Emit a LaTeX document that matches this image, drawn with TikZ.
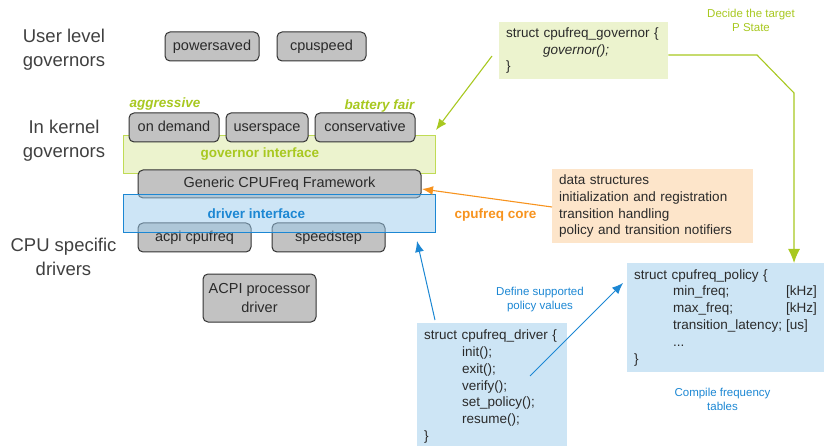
\documentclass[tikz,border=0pt]{standalone}
\usepackage{fontspec}
\setmainfont{Liberation Sans}
\usetikzlibrary{arrows.meta}

\definecolor{labelgray}{HTML}{404040}
\definecolor{inktext}{HTML}{2A2A2A}
\definecolor{boxfill}{HTML}{C2C2C2}
\definecolor{boxline}{HTML}{333333}
\definecolor{gov}{HTML}{A8C820}
\definecolor{govfill}{HTML}{ECF3CE}
\definecolor{govline}{HTML}{C0DB55}
\definecolor{drv}{HTML}{1C87D3}
\definecolor{drvfill}{HTML}{9CCCEE}
\definecolor{core}{HTML}{F7931E}
\definecolor{corefill}{HTML}{FDE5CA}
\definecolor{structblue}{HTML}{CDE5F5}

\tikzset{
  x=1pt, y=-1pt,
  sidelabel/.style={text=labelgray, align=center, font=\fontsize{18.5}{24}\selectfont},
  grayshape/.style={draw=boxline, fill=boxfill, line width=1pt, rounded corners=5pt,
    text=inktext, inner sep=0pt, minimum height=29pt,
    font=\fontsize{14.5}{19}\selectfont, align=center},
  graybox/.style={grayshape, text height=10.5pt, text depth=3pt},
  layerbox/.style={line width=1pt, inner sep=0pt},
  layertitle/.style={font=\bfseries\fontsize{13.5}{16}\selectfont},
  structbox/.style={text=inktext, align=left, inner xsep=7pt, inner ysep=0pt,
    font=\fontsize{13.5}{16.8}\selectfont},
  note/.style={align=center, font=\fontsize{11.5}{14}\selectfont},
  tag/.style={font=\bfseries\itshape\fontsize{13.5}{16}\selectfont, text=gov},
  link/.style={line width=1.1pt, -{Latex[length=11pt,width=9pt]}},
}

\begin{document}
\begin{tikzpicture}
\useasboundingbox (0,0) rectangle (824,446);

% side captions
\node[sidelabel] (ulg) at (64,49.5) {User level\\governors};
\node[sidelabel] (ikg) at (64,141) {In kernel\\governors};
\node[sidelabel] (csd) at (63.5,257) {CPU specific\\drivers};

% user level governors
\node[graybox, minimum width=94pt] (powersaved) at (212,46.5) {powersaved};
\node[graybox, minimum width=89pt] (cpuspeed) at (321.5,46.5) {cpuspeed};

% governor interface layer
\node[layerbox, draw=govline, fill=govfill, minimum width=312pt, minimum height=38pt]
  (govif) at (279,155) {};
\node[layertitle, text=gov] (govtitle) at (260,154.5) {governor interface};

% in kernel governors
\node[graybox, minimum width=90pt] (ondemand) at (174,127.5) {on demand};
\node[graybox, minimum width=82pt] (userspace) at (267,127.5) {userspace};
\node[graybox, minimum width=100pt] (conservative) at (365,127.5) {conservative};
\node[tag] (aggr) at (165,104) {aggressive};
\node[tag] (batt) at (379.5,106.5) {battery fair};

% core framework
\node[graybox, minimum width=283pt, minimum height=28pt] (generic) at (279.5,184) {Generic CPUFreq Framework};

% cpu specific drivers
\node[graybox, minimum width=113pt] (acpicpufreq) at (194.5,237.5) {acpi cpufreq};
\node[graybox, minimum width=113pt] (speedstep) at (328.5,237.5) {speedstep};
\node[grayshape, minimum width=113pt, minimum height=48pt]
  (acpiproc) at (259.5,298) {ACPI processor\\driver};

% driver interface layer (translucent, lies over the driver boxes)
\node[layerbox, draw=drv, fill=drvfill, fill opacity=0.5, minimum width=312pt, minimum height=38pt]
  (drvif) at (279,214) {};
\node[layertitle, text=drv] (drvtitle) at (256.5,214) {driver interface};

% governor structure
\node[structbox, fill=govfill, text width=155pt, minimum height=57pt, anchor=north west]
  (govstruct) at (499,22) {struct cpufreq\_governor \{\\\hspace*{37pt}\textit{governor();}\\\}};
\node[note, text=gov] (decide) at (751,20) {Decide the target\\P State};

% core duties
\node[structbox, fill=corefill, text width=187pt, minimum height=74pt, anchor=north west]
  (coreduty) at (552,169) {data structures\\initialization and registration\\transition handling\\policy and transition notifiers};
\node[layertitle, text=core] (coretitle) at (495.5,215.5) {cpufreq core};

% driver structure
\node[structbox, fill=structblue, text width=136pt, minimum height=127pt, anchor=north west]
  (drvstruct) at (417,323) {struct cpufreq\_driver \{\\
    \hspace*{38pt}init();\\
    \hspace*{38pt}exit();\\
    \hspace*{38pt}verify();\\
    \hspace*{38pt}set\_policy();\\
    \hspace*{38pt}resume();\\
    \}};
\node[note, text=drv] (define) at (540,300) {Define supported\\policy values};

% policy structure
\node[structbox, fill=structblue, text width=186pt, minimum height=109pt, anchor=north west]
  (policy) at (627,263) {struct cpufreq\_policy \{\\
    \hspace*{39pt}\makebox[113pt][l]{min\_freq;}[kHz]\\
    \hspace*{39pt}\makebox[113pt][l]{max\_freq;}[kHz]\\
    \hspace*{39pt}\makebox[113pt][l]{transition\_latency;}[us]\\
    \hspace*{39pt}...\\
    \}};
\node[note, text=drv] (compile) at (722.5,399) {Compile frequency\\tables};

% connectors
\coordinate (govfrom) at (492,56);
\coordinate (govto) at (436,130);
\draw[link, draw=gov] (govfrom) -- (govto);

\coordinate (bendA) at (757,55);
\coordinate (bendB) at (794,93);
\draw[link, draw=gov, -{Latex[length=14pt,width=12pt]}]
  (govstruct.east |- bendA) -- (bendA) -- (bendB) -- (bendB |- policy.north);

\coordinate (coreto) at (422,189);
\draw[link, draw=core] (coreduty.west |- 0,207) -- (coreto);

\coordinate (drvfrom) at (435,320);
\coordinate (drvto) at (417,241);
\draw[link, draw=drv, line width=1pt] (drvfrom) -- (drvto);

\coordinate (polfrom) at (530,376);
\coordinate (polto) at (623,283);
\draw[link, draw=drv, line width=1pt] (polfrom) -- (polto);
\end{tikzpicture}
\end{document}
